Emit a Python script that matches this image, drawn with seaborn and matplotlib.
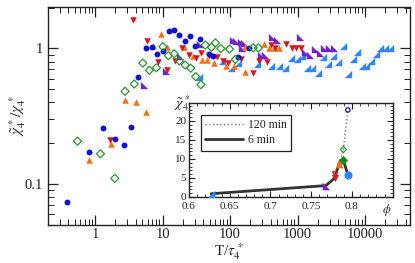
import matplotlib
matplotlib.use("Agg")
import matplotlib.pyplot as plt
import matplotlib.ticker as mt
import seaborn as sns
import numpy as np
import pandas as pd

# ---------------- data (main panel) ----------------
blue_x = [0.38, 0.82, 1.33, 1.96, 2.66, 3.45, 4.4, 5.6, 6.9, 8.4, 10.3, 12.5, 15, 17.5, 21.3, 25.6, 29.9, 35.5, 49.3, 56.8, 133, 193]
blue_y = [0.074, 0.171, 0.26, 0.213, 0.195, 0.265, 0.616, 1.01, 1.03, 0.905, 0.96, 1.35, 1.36, 1.26, 1.14, 1.24, 1.05, 1.18, 0.915, 0.885, 0.86, 1.01]

orange_x = [0.80, 1.73, 2.8, 4.1, 5.6, 7.3, 9.4, 11.8, 20.8, 28, 38, 45, 57, 87.3, 115, 167, 168, 318, 376, 450, 535]
orange_y = [0.15, 0.196, 0.42, 0.40, 0.338, 1.04, 1.28, 1.03, 1.03, 0.885, 0.82, 0.82, 0.78, 0.745, 0.745, 0.675, 1.02, 1.07, 1.0, 1.0, 1.0]

red_x = [1.69, 3.6, 5.9, 8.6, 11.5, 15.1, 19.7, 24.7, 31.2, 37.5, 48.9, 63.6, 80, 94.6, 145, 217, 265, 358, 406, 466, 680, 820, 950, 1120]
red_y = [0.21, 1.62, 1.14, 0.80, 0.69, 0.81, 1.0, 0.89, 0.855, 0.92, 0.885, 0.87, 0.81, 0.785, 0.83, 0.655, 0.81, 0.79, 1.06, 1.01, 1.08, 1.01, 1.01, 1.01]

green_x = [0.55, 1.2, 1.96, 2.78, 3.8, 5.1, 6.4, 8.1, 10.1, 12.2, 14.9, 17.7, 21.6, 26.1, 31, 37, 43, 53, 60.7, 73, 98, 120, 220, 262]
green_y = [0.207, 0.167, 0.11, 0.483, 0.547, 0.78, 0.69, 0.72, 1.03, 0.885, 0.915, 0.81, 0.755, 0.715, 0.62, 0.54, 1.06, 1.02, 1.10, 1.0, 0.99, 0.83, 1.01, 1.01]

purple_x = [5.3, 11.3, 18.2, 36, 112, 123, 146, 149, 162, 290, 330, 412, 490, 1090, 1290, 1530, 1800, 2150, 2500, 2950, 3450]
purple_y = [0.538, 0.68, 0.885, 1.08, 1.16, 1.13, 1.11, 1.01, 1.10, 0.895, 0.895, 1.21, 1.16, 1.22, 0.94, 0.895, 0.985, 0.93, 1.01, 1.01, 1.01]

lblue_x = [35, 77, 103, 130, 250, 400, 530, 650, 800, 980, 1170, 1390, 1650, 1990, 2370, 2800, 3340, 3980, 4700, 5600, 6600, 7600, 8900, 10500, 12400, 14600, 16700, 19800, 23500]
lblue_y = [0.62, 0.81, 0.72, 0.78, 0.765, 0.745, 0.745, 0.715, 0.846, 0.83, 0.885, 0.72, 0.72, 0.66, 0.87, 0.77, 0.885, 0.80, 1.05, 0.645, 0.835, 0.947, 0.747, 0.747, 0.81, 0.905, 1.0, 1.0, 1.0]

# ---------------- data (inset) ----------------
phi_6 = [0.627, 0.768, 0.779, 0.784, 0.7895, 0.795]
chi_6 = [0.85, 3.0, 5.0, 8.7, 9.7, 5.8]
phi_120 = [0.779, 0.785, 0.7895, 0.795]
chi_120 = [6.05, 9.2, 12.5, 22.9]

x_ticks = [1, 10, 100, 1000, 10000]
x_ticklabels = ["1", "10", "100", "1000", "10000"]
y_ticks = [0.1, 1]
y_ticklabels = ["0.1", "1"]
inset_xticks = [0.6, 0.65, 0.7, 0.75, 0.8]
inset_xticklabels = ["0.6", "0.65", "0.7", "0.75", "0.8"]
inset_yticks = [0, 5, 10, 15, 20]

# ---------------- style ----------------
sns.set_style("ticks")
plt.rcParams["font.family"] = ["Liberation Serif", "DejaVu Serif"]
plt.rcParams["mathtext.fontset"] = "stix"

C_BLUE = "#0a10d8"
C_ORANGE = "#f86e12"
C_RED = "#e0121c"
C_GREEN = "#2a9a30"
C_PURPLE = "#7422d4"
C_LBLUE = "#2f84ff"

M_LL = [(-1, -1), (-1, 1), (1, -1), (-1, -1)]   # right angle bottom-left
M_LR = [(1, -1), (1, 1), (-1, -1), (1, -1)]     # right angle bottom-right

fig = plt.figure(figsize=(4.15, 2.63), dpi=100)
ax = fig.add_axes([0.1157, 0.1445, 0.8723, 0.8285])

def sc(a, x, y, **kw):
    sns.scatterplot(x=x, y=y, ax=a, legend=False, **kw)

sc(ax, lblue_x, lblue_y, marker=M_LR, color=C_LBLUE, s=28, linewidth=0, zorder=3)
sc(ax, purple_x, purple_y, marker=M_LL, color=C_PURPLE, s=28, linewidth=0, zorder=3)
sc(ax, green_x, green_y, marker="D", facecolor="none", edgecolor=C_GREEN, s=17, linewidth=0.9, zorder=4)
sc(ax, orange_x, orange_y, marker="^", color=C_ORANGE, s=22, linewidth=0, zorder=3)
sc(ax, red_x, red_y, marker="v", color=C_RED, s=22, linewidth=0, zorder=3)
sc(ax, blue_x, blue_y, marker="o", color=C_BLUE, s=18, linewidth=0, zorder=3)

ax.set_xscale("log")
ax.set_yscale("log")
ax.set_xlim(0.201, 46400)
ax.set_ylim(0.0498, 2.02)
ax.xaxis.set_major_locator(mt.FixedLocator(x_ticks))
ax.xaxis.set_major_formatter(mt.FixedFormatter(x_ticklabels))
ax.xaxis.set_minor_locator(mt.LogLocator(base=10, subs=np.arange(2, 10), numticks=20))
ax.xaxis.set_minor_formatter(mt.NullFormatter())
ax.yaxis.set_major_locator(mt.FixedLocator(y_ticks))
ax.yaxis.set_major_formatter(mt.FixedFormatter(y_ticklabels))
ax.yaxis.set_minor_locator(mt.LogLocator(base=10, subs=np.arange(2, 10), numticks=20))
ax.yaxis.set_minor_formatter(mt.NullFormatter())
ax.tick_params(which="both", direction="in", top=True, right=True, colors="#222222", labelsize=10.5)
ax.tick_params(axis="x", which="both", pad=2.5)
ax.tick_params(which="major", length=7, width=0.9)
ax.tick_params(which="minor", length=4, width=0.7)
for s in ax.spines.values():
    s.set_linewidth(1.0)
    s.set_color("#222222")
ax.set_xlabel(r"T/$\tau_4^{\,*}$", fontsize=11, labelpad=0)
ax.set_ylabel(r"$\tilde{\chi}_4^{\,*}/\chi_4^{\,*}$", fontsize=11)
ax.yaxis.set_label_coords(-0.055, 0.5)

# ---------------- inset ----------------
ins = fig.add_axes([0.4554, 0.251, 0.4908, 0.357])
ins.set_facecolor("white")
df120 = pd.DataFrame({"phi": phi_120, "chi": chi_120})
df6 = pd.DataFrame({"phi": phi_6, "chi": chi_6})
sns.lineplot(data=df120, x="phi", y="chi", ax=ins, sort=False, estimator=None,
             color="#777777", linestyle=":", linewidth=1.0, label="120 min", zorder=2)
sns.lineplot(data=df6, x="phi", y="chi", ax=ins, sort=False, estimator=None,
             color="#333333", linestyle="-", linewidth=2.0, label="6 min", zorder=3)

open_markers = [("v", C_RED), ("^", C_ORANGE), ("D", C_GREEN), ("o", C_BLUE)]
for (m, c), px, py in zip(open_markers, phi_120, chi_120):
    sc(ins, [px], [py], marker=m, facecolor="none", edgecolor=c, s=10, linewidth=0.9, zorder=4)

filled = [(M_LR, C_LBLUE, 30), (M_LL, C_PURPLE, 30), ("v", C_RED, 26),
          ("^", C_ORANGE, 30), ("D", "#138a13", 22), ("o", C_LBLUE, 34)]
for (m, c, s), px, py in zip(filled, phi_6, chi_6):
    sc(ins, [px], [py], marker=m, color=c, s=s, linewidth=0, zorder=5)

ins.set_xlim(0.6, 0.85)
ins.set_ylim(0, 24.7)
ins.xaxis.set_major_locator(mt.FixedLocator(inset_xticks))
ins.xaxis.set_major_formatter(mt.FixedFormatter(inset_xticklabels))
ins.xaxis.set_minor_locator(mt.MultipleLocator(0.01))
ins.yaxis.set_major_locator(mt.FixedLocator(inset_yticks))
ins.yaxis.set_minor_locator(mt.MultipleLocator(1))
ins.tick_params(which="both", direction="in", top=True, right=True, colors="#222222", labelsize=8, pad=3.5)
ins.tick_params(axis="y", which="both", pad=2)
ins.tick_params(which="major", length=4.5, width=0.8)
ins.tick_params(which="minor", length=2.5, width=0.6)
for s in ins.spines.values():
    s.set_linewidth(1.0)
    s.set_color("#222222")
ins.set_xlabel("")
ins.set_ylabel("")
ins.text(0.843, -1.2, r"$\phi$", fontsize=9, ha="center", va="top", transform=ins.transData)
ins.text(0.01, 1.0, r"$\tilde{\chi}_4^{\,*}$", fontsize=10, ha="right", va="center", transform=ins.transAxes)
leg = ins.legend(loc="upper left", bbox_to_anchor=(0.06, 0.87), fontsize=8.5, frameon=True,
                 fancybox=False, edgecolor="#222222", handlelength=3.2, handletextpad=0.4,
                 borderpad=0.35, labelspacing=0.25, borderaxespad=0)
leg.get_frame().set_linewidth(0.9)
leg.get_frame().set_alpha(1)

fig.savefig("out.png", dpi=100)
